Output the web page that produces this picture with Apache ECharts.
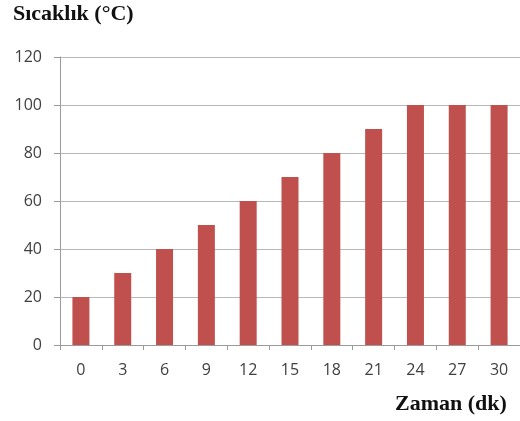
<!DOCTYPE html>
<html>
<head>
<meta charset="utf-8">
<script src="https://cdn.jsdelivr.net/npm/echarts@6/dist/echarts.min.js"></script>
<style>
    html, body { margin: 0; padding: 0; background: #fff; }
    #main { width: 520px; height: 421px; }
</style>
</head>
<body>
<div id="main"></div>
<script>
    // 数据
    var categories = ['0', '3', '6', '9', '12', '15', '18', '21', '24', '27', '30'];
    var temperatures = [20, 30, 40, 50, 60, 70, 80, 90, 100, 100, 100];

    var chart = echarts.init(document.getElementById('main'));

    var option = {
        animation: false,
        backgroundColor: '#fff',
        grid: {
            left: 60,
            right: -4,
            top: 57,
            bottom: 76
        },
        graphic: [{
            type: 'text',
            left: 13,
            top: 3,
            style: {
                text: 'Sıcaklık (°C)',
                font: 'bold 22px "Liberation Serif"',
                fill: '#111'
            }
        }, {
            type: 'text',
            left: 395,
            top: 393,
            style: {
                text: 'Zaman (dk)',
                font: 'bold 22px "Liberation Serif"',
                fill: '#111'
            }
        }],
        xAxis: {
            type: 'category',
            data: categories,
            axisLine: { lineStyle: { color: '#9a9a9a', width: 1 } },
            axisTick: { show: true, length: 5, lineStyle: { color: '#9a9a9a' } },
            axisLabel: {
                margin: 17,
                fontSize: 16,
                fontFamily: 'Open Sans',
                color: '#404040'
            }
        },
        yAxis: {
            type: 'value',
            min: 0,
            max: 120,
            interval: 20,
            axisLine: { show: true, lineStyle: { color: '#9a9a9a', width: 1 } },
            axisTick: { show: true, length: 6, lineStyle: { color: '#9a9a9a' } },
            axisLabel: {
                margin: 18,
                fontSize: 16,
                fontFamily: 'Open Sans',
                color: '#404040'
            },
            splitLine: { lineStyle: { color: '#b8b8b8', width: 1 } }
        },
        series: [{
            type: 'bar',
            data: temperatures,
            barWidth: 17,
            itemStyle: { color: '#c0504d' }
        }]
    };

    chart.setOption(option);
</script>
</body>
</html>
